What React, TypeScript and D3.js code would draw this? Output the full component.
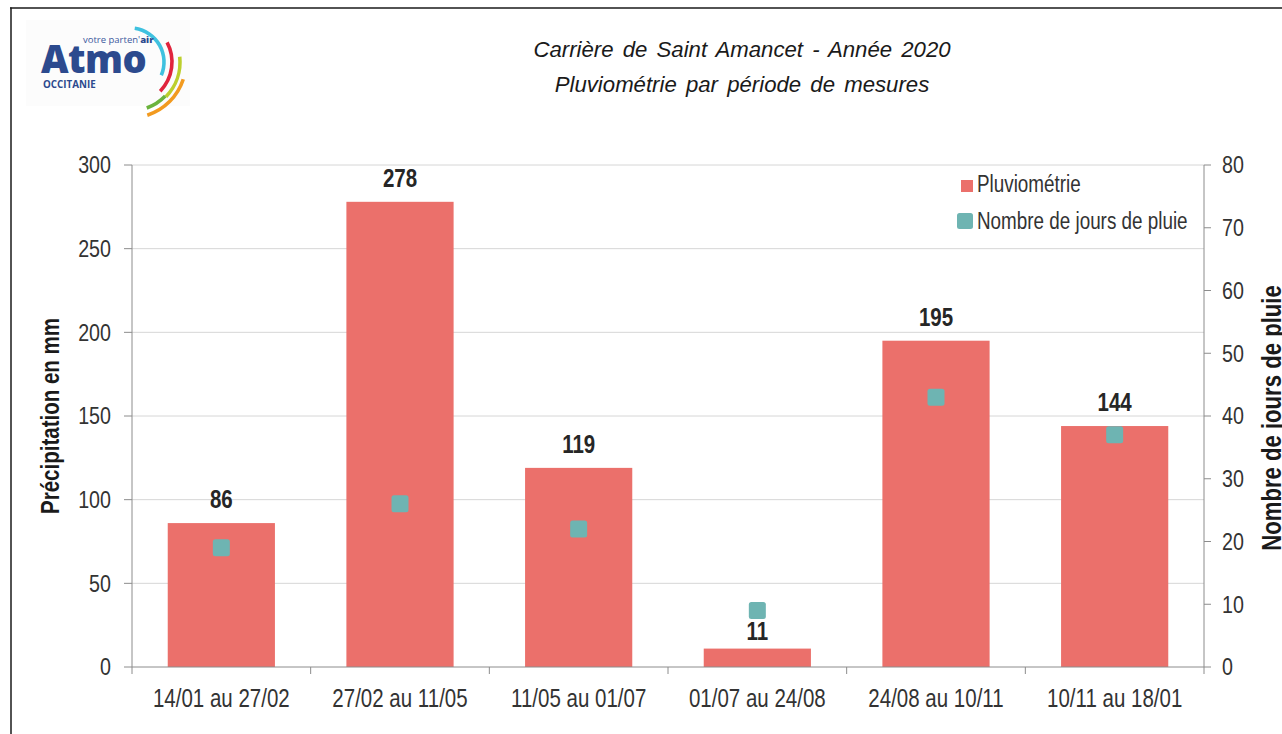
import React from "react";
import * as d3 from "d3";

const categories = [
  "14/01 au 27/02",
  "27/02 au 11/05",
  "11/05 au 01/07",
  "01/07 au 24/08",
  "24/08 au 10/11",
  "10/11 au 18/01",
];
const rainfall = [86, 278, 119, 11, 195, 144];
const rainyDays = [19, 26, 22, 9, 43, 37];
const leftTicks = [0, 50, 100, 150, 200, 250, 300];
const rightTicks = [0, 10, 20, 30, 40, 50, 60, 70, 80];
const titleLines = ["Carrière de Saint Amancet - Année 2020", "Pluviométrie par période de mesures"];
const legendLabels = ["Pluviométrie", "Nombre de jours de pluie"];
const leftTitle = "Précipitation en mm";
const rightTitle = "Nombre de jours de pluie";

const W = 1282;
const H = 734;
const BAR = "#eb706b";
const TEAL = "#6eb4b2";
const SANS = "'Liberation Sans', Arial, sans-serif";
const NARROW_SCALE = 0.82;

const logoArcs = [
  { r: 34, a0: 8, a1: 113, color: "#3fc1df" },
  { r: 42, a0: 62, a1: 134, color: "#e0243d" },
  { r: 50, a0: 84, a1: 134, color: "#bccf2d" },
  { r: 49, a0: 134, a1: 160, color: "#6bb33d" },
  { r: 56, a0: 108, a1: 162, color: "#f29a1f" },
];

type NProps = {
  x: number;
  y: number;
  rotate?: number;
  children: React.ReactNode;
  [k: string]: any;
};

function NText({ x, y, rotate, children, ...rest }: NProps) {
  const tr = `translate(${x},${y})${rotate ? ` rotate(${rotate})` : ""} scale(${NARROW_SCALE},1)`;
  return (
    <text transform={tr} fontFamily={SANS} {...rest}>
      {children}
    </text>
  );
}

export default function App() {
  const plotL = 132, plotR = 1204, plotT = 165, plotB = 667;
  const x = d3.scaleBand<string>().domain(categories).range([plotL, plotR]).paddingInner(0.4).paddingOuter(0.2);
  const yL = d3.scaleLinear().domain([0, 300]).range([plotB, plotT]);
  const yR = d3.scaleLinear().domain([0, 80]).range([plotB, plotT]);
  const step = x.step();
  const bounds = d3.range(categories.length + 1).map((i) => plotL + i * step);
  const arc = d3.arc();
  const deg = Math.PI / 180;
  const mk = 17;
  const cx = (c: string) => (x(c) || 0) + x.bandwidth() / 2;
  const labelFont = 25;
  const labelCap = 18;

  // label baseline above the bar; if the day-marker would cover it, push it under the marker
  const labelY = (i: number) => {
    let base = yL(rainfall[i]) - 15;
    const mTop = yR(rainyDays[i]) - mk / 2;
    const mBot = yR(rainyDays[i]) + mk / 2;
    if (mBot > base - labelCap && mTop < base) {
      base = Math.min(yL(rainfall[i]) - 7, mBot + labelCap + 3);
    }
    return base;
  };

  return (
    <div style={{ position: "absolute", left: 0, top: 0, width: W, height: H, background: "#fff" }}>
      <svg width={W} height={H} style={{ display: "block" }}>
        <rect x={0} y={0} width={W} height={H} fill="#fff" />
        {/* frame */}
        <line x1={10} x2={W} y1={8} y2={8} stroke="#1a1a1a" strokeWidth={1.5} />
        <line x1={11} x2={11} y1={7.5} y2={H} stroke="#1a1a1a" strokeWidth={1.5} />

        {/* logo */}
        <g>
          <rect x={26} y={20} width={164} height={86} fill="#fcfcfc" />
          {logoArcs.map((a, i) => (
            <path
              key={i}
              transform="translate(130,62)"
              d={arc({ innerRadius: a.r - 1.8, outerRadius: a.r + 1.8, startAngle: a.a0 * deg, endAngle: a.a1 * deg }) || ""}
              fill={a.color}
            />
          ))}
          <text x={41} y={73} fontFamily="'Open Sans', sans-serif" fontWeight={800} fontSize={38} fill="#2c4a8e" letterSpacing={-0.5}>
            Atmo
          </text>
          <text x={83} y={43} fontFamily="'Open Sans', sans-serif" fontSize={9.5} fill="#3d5a9e">
            votre parten'<tspan fontWeight={800} fill="#2c4a8e">air</tspan>
          </text>
          <text x={43} y={88} fontFamily="'Open Sans', sans-serif" fontWeight={700} fontSize={9.8} fill="#2c4a8e">
            OCCITANIE
          </text>
        </g>

        {/* title */}
        {titleLines.map((t, i) => (
          <text key={i} x={742} y={57 + i * 35} textAnchor="middle" fontFamily={SANS} fontStyle="italic" fontSize={22.2} wordSpacing={3} fill="#1a1a1a">
            {t}
          </text>
        ))}

        {/* gridlines */}
        {leftTicks.filter((v) => v > 0).map((v) => (
          <line key={v} x1={plotL} x2={plotR} y1={yL(v)} y2={yL(v)} stroke="#d6d6d6" strokeWidth={1} />
        ))}

        {/* bars */}
        {rainfall.map((v, i) => (
          <rect key={i} x={x(categories[i])} y={yL(v)} width={x.bandwidth()} height={plotB - yL(v)} fill={BAR} />
        ))}

        {/* axes */}
        <line x1={plotL} x2={plotL} y1={plotT} y2={plotB} stroke="#8c8c8c" />
        <line x1={plotR} x2={plotR} y1={plotT} y2={plotB} stroke="#8c8c8c" />
        <line x1={plotL} x2={plotR} y1={plotB} y2={plotB} stroke="#8c8c8c" />
        {leftTicks.map((v) => (
          <g key={v}>
            <line x1={plotL - 8} x2={plotL} y1={yL(v)} y2={yL(v)} stroke="#8c8c8c" />
            <NText x={111} y={yL(v)} dy="0.35em" textAnchor="end" fontSize={24} fill="#333">
              {v}
            </NText>
          </g>
        ))}
        {rightTicks.map((v) => (
          <g key={v}>
            <line x1={plotR} x2={plotR + 7} y1={yR(v)} y2={yR(v)} stroke="#8c8c8c" />
            <NText x={1222} y={yR(v)} dy="0.35em" textAnchor="start" fontSize={24} fill="#333">
              {v}
            </NText>
          </g>
        ))}
        {bounds.map((bx, i) => (
          <line key={i} x1={bx} x2={bx} y1={plotB} y2={plotB + 7} stroke="#8c8c8c" />
        ))}
        {categories.map((c) => (
          <NText key={c} x={cx(c)} y={707} textAnchor="middle" fontSize={25} fill="#333">
            {c}
          </NText>
        ))}

        {/* markers */}
        {rainyDays.map((v, i) => (
          <rect key={i} x={cx(categories[i]) - mk / 2} y={yR(v) - mk / 2} width={mk} height={mk} rx={2.5} fill={TEAL} />
        ))}

        {/* value labels */}
        {rainfall.map((v, i) => (
          <NText key={i} x={cx(categories[i])} y={labelY(i)} textAnchor="middle" fontWeight={700} fontSize={labelFont} fill="#262626">
            {v}
          </NText>
        ))}

        {/* legend */}
        <rect x={961} y={180} width={12} height={12} fill={BAR} />
        <NText x={977} y={192} fontSize={23} fill="#333">{legendLabels[0]}</NText>
        <rect x={957} y={213} width={16} height={16} rx={2.5} fill={TEAL} />
        <NText x={977} y={229} fontSize={23} fill="#333">{legendLabels[1]}</NText>

        {/* axis titles */}
        <NText x={59} y={416} rotate={-90} textAnchor="middle" fontWeight={700} fontSize={25} fill="#1a1a1a">
          {leftTitle}
        </NText>
        <NText x={1281} y={418} rotate={-90} textAnchor="middle" fontWeight={700} fontSize={27} fill="#1a1a1a">
          {rightTitle}
        </NText>
      </svg>
    </div>
  );
}
